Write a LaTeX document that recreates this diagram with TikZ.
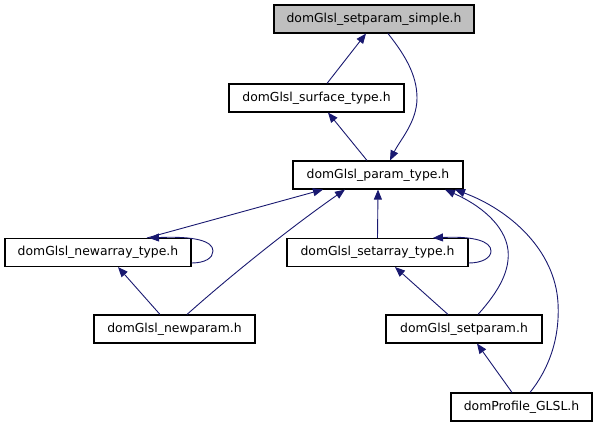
\documentclass[tikz,border=0pt]{standalone}
\usepackage{fontspec}
\setmainfont{DejaVu Sans}
\usetikzlibrary{arrows.meta,calc}
\definecolor{edgeblue}{HTML}{191970}
\definecolor{topgray}{HTML}{BFBFBF}
\begin{document}
\begin{tikzpicture}[x=1pt,y=-1pt,
  box/.style={draw=black,line width=1.1pt,fill=white,minimum height=28pt,inner sep=0pt,
    font=\fontsize{12.4}{14}\selectfont},
  edge/.style={draw=edgeblue,line width=0.9pt,-{Triangle[length=10pt,width=8pt]}}]
\useasboundingbox (0,0) rectangle (597,427);
\node[box,fill=topgray,minimum width=200pt] (top) at (374,19) {domGlsl\_setparam\_simple.h};
\node[box,minimum width=175pt] (surface) at (316.5,98) {domGlsl\_surface\_type.h};
\node[box,minimum width=170pt] (param) at (378,175) {domGlsl\_param\_type.h};
\node[box,minimum width=186pt] (newarray) at (98,252.5) {domGlsl\_newarray\_type.h};
\node[box,minimum width=181pt] (setarray) at (377.5,252.5) {domGlsl\_setarray\_type.h};
\node[box,minimum width=161pt] (newparam) at (174.5,329) {domGlsl\_newparam.h};
\node[box,minimum width=156pt] (setparam) at (464,329) {domGlsl\_setparam.h};
\node[box,minimum width=141pt] (profile) at (521.5,407) {domProfile\_GLSL.h};

\draw[edge] ($(surface.north)+(10.5,0)$) -- ($(top.south)+(-8,0)$);
\draw[edge] ($(param.north)+(-11,0)$) -- ($(surface.south)+(11.5,0)$);
\draw[edge] ($(top.south)+(14,0)$) .. controls (405,55) and (417,75) .. (417,98)
  .. controls (417,122) and (400,140) .. ($(param.north)+(12,0)$);
\draw[edge] ($(newarray.north)+(49,0)$) -- ($(param.south)+(-55,0)$);
\draw[edge] ($(newarray.east)+(0,10.5)$) .. controls (205,263) and (213,258) .. (213,251)
  .. controls (213,241) and (195,236) .. ($(newarray.north)+(51,0)$);
\draw[edge] ($(newparam.north)+(12.5,0)$) .. controls (220,285) and (280,235) .. ($(param.south)+(-33,0)$);
\draw[edge] ($(newparam.north)+(-14.5,0)$) -- ($(newarray.south)+(20,0)$);
\draw[edge] (setarray.north) -- (param.south);
\draw[edge] ($(setarray.east)+(0,10.5)$) .. controls (482,263) and (491,258) .. (491,251)
  .. controls (491,241) and (473,236) .. ($(setarray.north)+(55.5,0)$);
\draw[edge] ($(setparam.north)+(-16,0)$) -- ($(setarray.south)+(17.5,0)$);
\draw[edge] ($(setparam.north)+(14,0)$) .. controls (500,290) and (510,270) .. (508,250)
  .. controls (505,225) and (480,205) .. ($(param.south)+(67,0)$);
\draw[edge] ($(profile.north)+(8.5,0)$) .. controls (548,370) and (560,340) .. (558,303)
  .. controls (555,250) and (510,210) .. ($(param.south)+(77,0)$);
\draw[edge] ($(profile.north)+(-9.5,0)$) -- ($(setparam.south)+(13,0)$);
\end{tikzpicture}
\end{document}
